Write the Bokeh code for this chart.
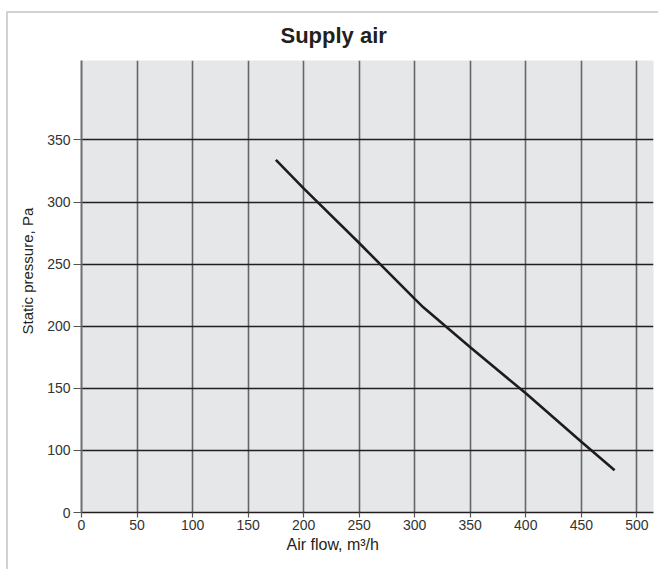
from bokeh.plotting import figure
from bokeh.models import FixedTicker, Title, Range1d
from bokeh.embed import file_html
from bokeh.resources import INLINE

# Data
air_flow = [175, 200, 250, 300, 308, 350, 400, 450, 480]
static_pressure = [334, 311, 267, 222, 215, 183, 146, 107, 84]

x_ticks = [0, 50, 100, 150, 200, 250, 300, 350, 400, 450, 500]
# broken y axis: the bottom line is labelled "0"
y_ticks = [50, 100, 150, 200, 250, 300, 350]
y_tick_labels = ["0", "100", "150", "200", "250", "300", "350"]

FONT = "Liberation Sans"

frame_border = ("linear-gradient(#d2d2d2, #d2d2d2) 6px 11px / 2px calc(100% - 11px) no-repeat, "
                "linear-gradient(#d2d2d2, #d2d2d2) 6px 11px / calc(100% - 6px) 2px no-repeat")

p = figure(width=658, height=569, output_backend="svg", toolbar_location=None,
           x_range=Range1d(0, 515), y_range=Range1d(50, 414),
           min_border_left=81, min_border_top=60, min_border_bottom=57, min_border_right=5,
           background_fill_color="#e6e7e8", border_fill_color=None,
           styles={"background": frame_border})
p.outline_line_color = None

p.line(air_flow, static_pressure, line_color="#1f1c1d", line_width=2.6)

p.xaxis.ticker = FixedTicker(ticks=x_ticks)
p.yaxis.ticker = FixedTicker(ticks=y_ticks)
p.yaxis.major_label_overrides = {t: l for t, l in zip(y_ticks, y_tick_labels)}

for ax in (p.xaxis, p.yaxis):
    ax.major_label_text_font = FONT
    ax.major_label_text_font_size = "14px"
    ax.major_label_text_color = "#333333"
    ax.minor_tick_line_color = None
    ax.major_tick_in = 0

p.xaxis.axis_line_color = "#231f20"
p.xaxis.axis_line_width = 1.5
p.xaxis.major_tick_line_color = "#555555"
p.xaxis.major_tick_line_width = 1.2
p.xaxis.major_tick_out = 5
p.xaxis.major_label_standoff = 2

p.yaxis.axis_line_color = "#6d6e71"
p.yaxis.axis_line_width = 2
p.yaxis.major_tick_line_color = "#555555"
p.yaxis.major_tick_line_width = 1.2
p.yaxis.major_tick_out = 8
p.yaxis.major_label_standoff = 3

p.xgrid.grid_line_color = "#666666"
p.xgrid.grid_line_width = 1.6
p.ygrid.grid_line_color = "#231f20"
p.ygrid.grid_line_width = 1.4

title = Title(text="Supply air", align="left", offset=199, standoff=26,
              text_font=FONT, text_font_size="22px", text_font_style="bold",
              text_color="#231f20")
p.add_layout(title, "above")

xlab = Title(text="Air flow, m\u00b3/h", align="left", offset=205, standoff=2,
             text_font=FONT, text_font_size="16px", text_font_style="normal",
             text_color="#231f20")
p.add_layout(xlab, "below")

ylab = Title(text="Static pressure, Pa", align="left", offset=178, standoff=17,
             text_font=FONT, text_font_size="15px", text_font_style="normal",
             text_color="#231f20")
p.add_layout(ylab, "left")

open("out.html", "w").write(file_html(p, INLINE))
